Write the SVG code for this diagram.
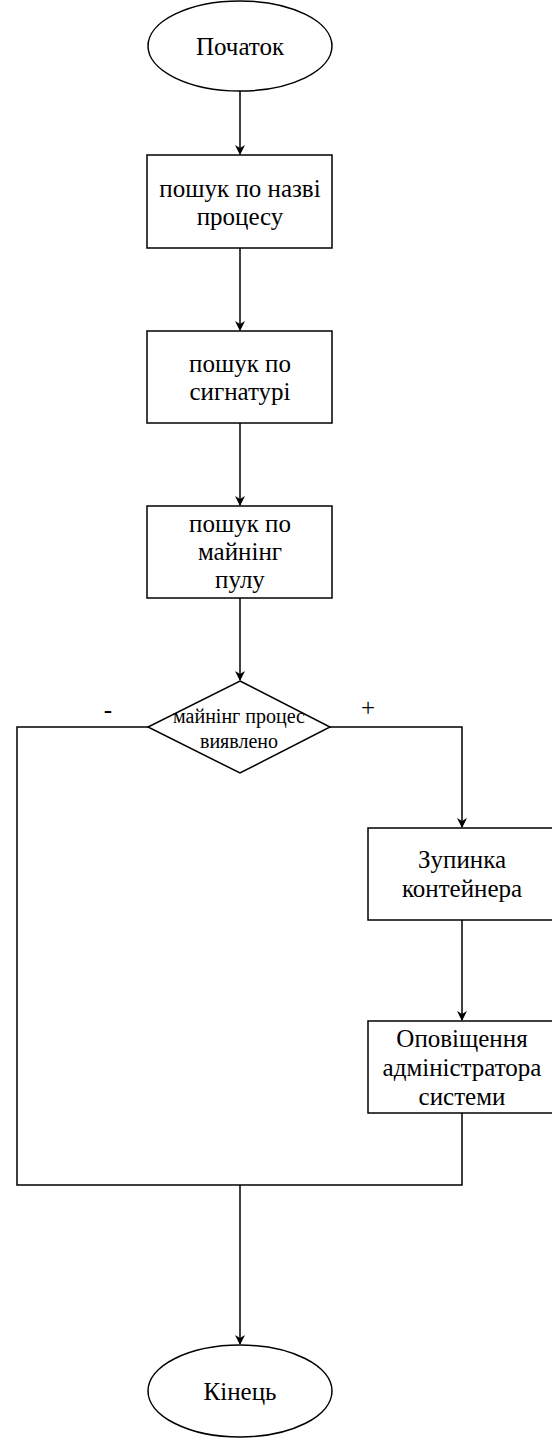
<svg xmlns="http://www.w3.org/2000/svg" width="552" height="1440" viewBox="0 0 552 1440">
<style>
.s{fill:#fff;stroke:#000;stroke-width:1.5}
.c{fill:none;stroke:#000;stroke-width:1.5}
text{font-family:"Liberation Serif","DejaVu Serif",serif;font-size:25px;fill:#000;text-anchor:middle}
.sm{font-size:20px}
</style>
<defs>
<marker id="a" viewBox="0 0 10 10" refX="9" refY="5" markerWidth="10" markerHeight="10" markerUnits="userSpaceOnUse" orient="auto">
<path d="M0,0 L10,5 L0,10 L3,5 Z" fill="#000"/>
</marker>
</defs>
<g id="connectors">
<path class="c" d="M240,91 V154" marker-end="url(#a)"/>
<path class="c" d="M240,248 V330" marker-end="url(#a)"/>
<path class="c" d="M240,423 V505" marker-end="url(#a)"/>
<path class="c" d="M240,598 V680" marker-end="url(#a)"/>
<path class="c" d="M330,727 H462 V827" marker-end="url(#a)"/>
<path class="c" d="M462,920 V1020" marker-end="url(#a)"/>
<path class="c" d="M462,1113 V1185 H17 V727 H148"/>
<path class="c" d="M240,1185 V1344" marker-end="url(#a)"/>
<text x="108" y="718">-</text>
<text x="368" y="716">+</text>
</g>
<g id="start">
<ellipse class="s" cx="240" cy="46" rx="92" ry="45"/>
<text x="240" y="55">Початок</text>
</g>
<g id="n1">
<rect class="s" x="147" y="155" width="185" height="93"/>
<text x="240" y="197">пошук по назві</text>
<text x="240" y="225">процесу</text>
</g>
<g id="n2">
<rect class="s" x="147" y="331" width="185" height="92"/>
<text x="240" y="372">пошук по</text>
<text x="240" y="400">сигнатурі</text>
</g>
<g id="n3">
<rect class="s" x="147" y="506" width="185" height="92"/>
<text x="240" y="532">пошук по</text>
<text x="240" y="560">майнінг</text>
<text x="240" y="588">пулу</text>
</g>
<g id="decision">
<path class="s" d="M240,681 L330,727 L240,773 L148,727 Z"/>
<text class="sm" x="239" y="723">майнінг процес</text>
<text class="sm" x="239" y="748">виявлено</text>
</g>
<g id="n4">
<rect class="s" x="368" y="828" width="186" height="92"/>
<text x="462" y="868">Зупинка</text>
<text x="462" y="897">контейнера</text>
</g>
<g id="n5">
<rect class="s" x="368" y="1021" width="186" height="92"/>
<text x="462" y="1047">Оповіщення</text>
<text x="462" y="1076">адміністратора</text>
<text x="462" y="1105">системи</text>
</g>
<g id="end">
<ellipse class="s" cx="240" cy="1391" rx="92" ry="46"/>
<text x="240" y="1400">Кінець</text>
</g>
</svg>
